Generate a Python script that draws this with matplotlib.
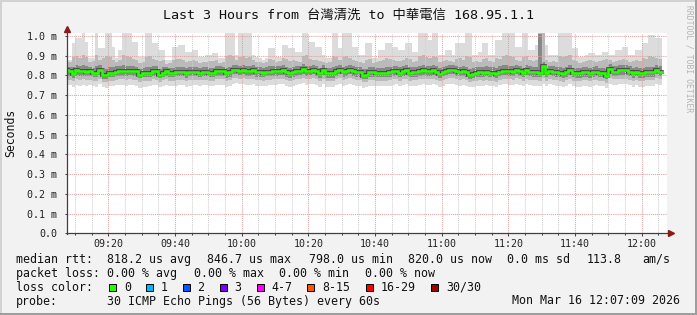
import numpy as np
import matplotlib
matplotlib.use("Agg")
import matplotlib.pyplot as plt
from matplotlib.patches import Rectangle
from matplotlib.lines import Line2D

# ---------------- data (milliseconds), one value per 1-minute step ----------------
start_minute = 547          # 09:07 (minutes after midnight)

median_rtt = [
    0.828,0.821,0.807,0.828,0.822,0.822,0.816,0.821,0.812,0.812,
    0.828,0.800,0.800,0.810,0.812,0.818,0.821,0.821,0.821,0.823,
    0.821,0.821,0.802,0.810,0.810,0.810,0.822,0.822,0.802,0.815,
    0.821,0.811,0.811,0.818,0.818,0.818,0.810,0.818,0.818,0.818,
    0.814,0.818,0.818,0.813,0.813,0.821,0.821,0.821,0.810,0.816,
    0.829,0.829,0.824,0.829,0.821,0.821,0.826,0.816,0.816,0.813,
    0.818,0.818,0.821,0.821,0.824,0.826,0.816,0.811,0.816,0.821,
    0.824,0.834,0.821,0.824,0.829,0.821,0.810,0.826,0.810,0.810,
    0.810,0.821,0.829,0.816,0.821,0.829,0.821,0.816,0.816,0.799,
    0.800,0.816,0.816,0.811,0.811,0.811,0.811,0.816,0.821,0.824,
    0.813,0.821,0.826,0.813,0.816,0.816,0.821,0.826,0.821,0.821,
    0.826,0.818,0.809,0.818,0.824,0.828,0.828,0.821,0.818,0.821,
    0.816,0.800,0.806,0.814,0.816,0.813,0.818,0.814,0.814,0.808,
    0.818,0.824,0.824,0.821,0.818,0.828,0.821,0.811,0.826,0.818,
    0.816,0.816,0.813,0.847,0.811,0.824,0.818,0.816,0.814,0.808,
    0.816,0.826,0.812,0.810,0.810,0.816,0.816,0.810,0.816,0.818,
    0.813,0.813,0.798,0.834,0.820,0.820,0.826,0.826,0.826,0.818,
    0.810,0.818,0.810,0.810,0.816,0.816,0.816,0.828,0.820]

rtt_max = [
    0.910,0.880,0.966,0.988,0.988,1.030,0.970,0.887,0.887,1.030,
    0.937,0.937,1.013,1.013,0.946,0.887,0.930,1.020,1.013,1.013,
    0.971,0.971,0.895,0.895,1.013,1.013,0.963,0.963,0.929,0.929,
    0.878,0.878,0.946,0.946,0.954,0.954,0.920,0.920,0.929,0.929,
    0.895,0.895,0.904,0.904,0.912,0.912,0.887,0.887,1.030,1.030,
    1.030,0.904,1.030,1.030,1.030,1.030,0.904,0.895,0.887,0.878,
    0.887,0.937,0.937,0.895,0.895,0.954,0.954,0.937,0.937,0.920,
    0.920,1.030,1.030,0.971,0.971,0.946,0.946,0.904,0.887,0.887,
    1.030,1.030,0.937,1.013,1.013,1.013,0.946,0.946,0.904,0.904,
    0.963,0.963,0.887,0.887,0.929,0.929,0.963,0.963,0.946,0.946,
    0.929,0.929,0.963,0.963,0.920,0.920,1.013,1.013,1.013,0.980,
    1.013,1.013,0.904,0.904,0.929,0.929,0.904,0.963,0.963,0.963,
    1.013,1.013,0.904,0.904,0.920,0.963,0.963,0.904,0.904,0.980,
    0.980,1.030,1.030,1.030,1.030,0.946,0.946,1.013,1.013,0.929,
    0.929,0.954,1.030,1.030,0.954,0.904,0.904,0.904,1.013,1.013,
    1.013,1.013,0.937,0.937,0.895,0.895,0.904,0.912,0.912,0.904,
    0.904,0.920,0.920,0.904,0.904,0.929,0.929,0.946,0.946,0.904,
    0.904,0.929,0.929,0.963,0.963,1.005,1.005,0.988,0.988]

rtt_p90 = [
    0.885,0.870,0.895,0.900,0.890,0.905,0.895,0.870,0.875,0.905,
    0.880,0.890,0.900,0.895,0.880,0.870,0.880,0.905,0.900,0.895,
    0.885,0.880,0.865,0.870,0.895,0.900,0.885,0.880,0.875,0.880,
    0.860,0.865,0.880,0.885,0.885,0.880,0.870,0.875,0.880,0.875,
    0.865,0.870,0.870,0.875,0.875,0.880,0.865,0.870,0.900,0.905,
    0.900,0.880,0.895,0.900,0.890,0.895,0.880,0.870,0.870,0.865,
    0.870,0.885,0.880,0.870,0.875,0.890,0.885,0.875,0.880,0.875,
    0.870,0.900,0.905,0.885,0.880,0.880,0.875,0.870,0.865,0.870,
    0.900,0.895,0.880,0.895,0.900,0.890,0.880,0.875,0.870,0.865,
    0.880,0.885,0.865,0.870,0.875,0.880,0.890,0.885,0.880,0.875,
    0.875,0.880,0.890,0.885,0.870,0.875,0.900,0.905,0.895,0.890,
    0.900,0.895,0.870,0.875,0.880,0.875,0.870,0.885,0.890,0.880,
    0.900,0.895,0.870,0.875,0.870,0.885,0.890,0.875,0.870,0.890,
    0.885,0.900,0.905,0.900,0.895,0.880,0.875,0.895,0.900,0.880,
    0.875,0.880,1.020,1.020,0.880,0.870,0.875,0.870,0.900,0.895,
    0.900,0.905,0.880,0.875,0.865,0.870,0.875,0.880,0.875,0.870,
    0.875,0.880,0.885,0.880,0.870,0.875,0.880,0.885,0.880,0.870,
    0.875,0.880,0.875,0.890,0.885,0.900,0.895,0.890,0.885]

rtt_p75 = [
    0.850,0.845,0.845,0.855,0.850,0.855,0.850,0.845,0.840,0.850,
    0.855,0.840,0.835,0.845,0.845,0.850,0.850,0.855,0.850,0.850,
    0.850,0.845,0.835,0.840,0.845,0.845,0.850,0.850,0.835,0.845,
    0.845,0.840,0.840,0.845,0.845,0.845,0.840,0.845,0.845,0.845,
    0.840,0.845,0.845,0.840,0.840,0.850,0.850,0.845,0.840,0.845,
    0.855,0.855,0.850,0.855,0.850,0.850,0.855,0.845,0.845,0.840,
    0.845,0.850,0.850,0.850,0.850,0.855,0.845,0.840,0.845,0.850,
    0.850,0.860,0.850,0.850,0.855,0.850,0.840,0.855,0.840,0.840,
    0.845,0.850,0.855,0.845,0.850,0.855,0.850,0.845,0.845,0.835,
    0.835,0.845,0.845,0.840,0.840,0.840,0.845,0.845,0.850,0.850,
    0.845,0.850,0.855,0.845,0.845,0.845,0.850,0.855,0.850,0.850,
    0.855,0.850,0.840,0.845,0.850,0.855,0.855,0.850,0.845,0.850,
    0.845,0.835,0.840,0.845,0.845,0.845,0.850,0.845,0.845,0.840,
    0.850,0.855,0.855,0.850,0.850,0.855,0.850,0.840,0.855,0.850,
    0.845,0.845,1.010,0.870,0.840,0.850,0.850,0.845,0.845,0.840,
    0.845,0.855,0.840,0.840,0.840,0.845,0.845,0.840,0.845,0.850,
    0.840,0.840,0.835,0.860,0.850,0.850,0.855,0.855,0.855,0.850,
    0.840,0.845,0.840,0.840,0.845,0.845,0.845,0.855,0.850]

rtt_p25 = [
    0.800,0.795,0.785,0.800,0.798,0.798,0.795,0.798,0.790,0.790,
    0.800,0.782,0.782,0.790,0.790,0.795,0.798,0.798,0.798,0.800,
    0.798,0.798,0.785,0.790,0.790,0.790,0.798,0.798,0.785,0.792,
    0.798,0.790,0.790,0.795,0.795,0.795,0.788,0.795,0.795,0.795,
    0.792,0.795,0.795,0.790,0.790,0.798,0.798,0.798,0.788,0.793,
    0.805,0.805,0.800,0.805,0.798,0.798,0.802,0.793,0.793,0.790,
    0.795,0.795,0.798,0.798,0.800,0.802,0.793,0.788,0.793,0.798,
    0.800,0.808,0.798,0.800,0.805,0.798,0.788,0.802,0.788,0.788,
    0.788,0.798,0.805,0.793,0.798,0.805,0.798,0.793,0.793,0.780,
    0.782,0.793,0.793,0.790,0.790,0.790,0.790,0.793,0.798,0.800,
    0.790,0.798,0.802,0.790,0.793,0.793,0.798,0.802,0.798,0.798,
    0.802,0.795,0.788,0.795,0.800,0.805,0.805,0.798,0.795,0.798,
    0.793,0.782,0.786,0.792,0.793,0.790,0.795,0.792,0.792,0.786,
    0.795,0.800,0.800,0.798,0.795,0.805,0.798,0.790,0.802,0.795,
    0.793,0.793,0.790,0.805,0.790,0.800,0.795,0.793,0.792,0.786,
    0.793,0.802,0.790,0.788,0.788,0.793,0.793,0.788,0.793,0.795,
    0.790,0.790,0.780,0.805,0.798,0.798,0.802,0.802,0.802,0.795,
    0.788,0.795,0.788,0.788,0.793,0.793,0.793,0.805,0.798]

rtt_p10 = [
    0.782,0.778,0.770,0.780,0.778,0.780,0.776,0.778,0.772,0.772,
    0.780,0.768,0.766,0.772,0.774,0.778,0.780,0.780,0.778,0.780,
    0.778,0.778,0.768,0.772,0.772,0.772,0.780,0.778,0.768,0.775,
    0.780,0.772,0.772,0.776,0.778,0.778,0.770,0.776,0.778,0.778,
    0.775,0.778,0.778,0.772,0.772,0.780,0.780,0.780,0.770,0.775,
    0.785,0.786,0.782,0.785,0.780,0.780,0.784,0.776,0.776,0.772,
    0.776,0.778,0.780,0.780,0.782,0.784,0.775,0.770,0.775,0.780,
    0.782,0.788,0.780,0.782,0.786,0.780,0.770,0.784,0.770,0.770,
    0.770,0.780,0.786,0.775,0.780,0.786,0.780,0.775,0.775,0.765,
    0.766,0.775,0.775,0.772,0.772,0.772,0.772,0.775,0.780,0.782,
    0.772,0.780,0.784,0.772,0.775,0.775,0.780,0.784,0.780,0.780,
    0.784,0.778,0.770,0.776,0.782,0.786,0.786,0.780,0.776,0.780,
    0.775,0.766,0.770,0.774,0.775,0.772,0.778,0.774,0.774,0.768,
    0.777,0.782,0.782,0.780,0.777,0.786,0.780,0.772,0.784,0.777,
    0.775,0.775,0.772,0.786,0.772,0.782,0.777,0.775,0.774,0.768,
    0.775,0.784,0.772,0.770,0.770,0.775,0.775,0.770,0.775,0.777,
    0.772,0.772,0.764,0.786,0.780,0.780,0.784,0.784,0.784,0.777,
    0.770,0.777,0.770,0.770,0.775,0.775,0.775,0.786,0.780]

rtt_min = [
    0.755,0.750,0.742,0.750,0.748,0.752,0.745,0.750,0.745,0.742,
    0.755,0.740,0.738,0.745,0.748,0.750,0.752,0.750,0.748,0.752,
    0.750,0.748,0.738,0.742,0.742,0.745,0.752,0.750,0.740,0.748,
    0.752,0.745,0.745,0.748,0.750,0.750,0.742,0.748,0.750,0.750,
    0.748,0.750,0.750,0.745,0.745,0.752,0.752,0.752,0.742,0.748,
    0.758,0.760,0.755,0.758,0.752,0.752,0.756,0.748,0.748,0.745,
    0.748,0.750,0.752,0.752,0.755,0.758,0.748,0.742,0.748,0.752,
    0.755,0.762,0.752,0.755,0.758,0.752,0.742,0.756,0.742,0.742,
    0.742,0.752,0.758,0.748,0.752,0.758,0.752,0.748,0.748,0.738,
    0.740,0.748,0.748,0.745,0.745,0.745,0.745,0.748,0.752,0.755,
    0.745,0.752,0.756,0.745,0.748,0.748,0.752,0.756,0.752,0.752,
    0.756,0.750,0.742,0.748,0.755,0.758,0.758,0.752,0.748,0.752,
    0.748,0.740,0.742,0.746,0.748,0.745,0.750,0.746,0.746,0.740,
    0.750,0.755,0.755,0.752,0.750,0.758,0.752,0.745,0.756,0.750,
    0.748,0.748,0.745,0.758,0.745,0.755,0.750,0.748,0.746,0.740,
    0.748,0.756,0.745,0.742,0.742,0.748,0.748,0.742,0.748,0.750,
    0.745,0.745,0.736,0.758,0.752,0.752,0.756,0.756,0.756,0.750,
    0.742,0.750,0.742,0.742,0.748,0.748,0.748,0.758,0.752]

y_ticks = [0.0, 0.1, 0.2, 0.3, 0.4, 0.5, 0.6, 0.7, 0.8, 0.9, 1.0]
y_labels = ["0.0", "0.1 m", "0.2 m", "0.3 m", "0.4 m", "0.5 m", "0.6 m", "0.7 m", "0.8 m", "0.9 m", "1.0 m"]
x_tick_minutes = [560, 580, 600, 620, 640, 660, 680, 700, 720]
x_labels = ["09:20", "09:40", "10:00", "10:20", "10:40", "11:00", "11:20", "11:40", "12:00"]

title = "Last 3 Hours from 台灣清洗 to 中華電信 168.95.1.1"
legend_rtt = [("median rtt:", 16), ("818.2 us avg", 107), ("846.7 us max", 207),
              ("798.0 us min", 309), ("820.0 us now", 408), ("0.0 ms sd", 507),
              ("113.8", 587), ("am/s", 642)]
legend_loss = [("packet loss:", 16), ("0.00 % avg", 107), ("0.00 % max", 194),
               ("0.00 % min", 279), ("0.00 % now", 365)]
loss_labels = ["0", "1", "2", "3", "4-7", "8-15", "16-29", "30/30"]
loss_colors = ["#26ff00", "#00b8ff", "#0059ff", "#7e00ff", "#ff00ff", "#ff5500", "#ff0000", "#a10000"]
loss_box_x = [109, 146, 183, 220, 257, 307, 366, 431]
loss_label_x = [124, 161, 197, 234, 271, 322, 381, 446]
probe_text = "30 ICMP Echo Pings (56 Bytes) every 60s"
date_text = "Mon Mar 16 12:07:09 2026"

# ---------------- figure ----------------
W, H = 697, 315
fig = plt.figure(figsize=(W / 100, H / 100), dpi=100)
fig.patch.set_facecolor("#f2f2f2")

def fx(x):
    return x / W

def fy(y):
    return 1 - y / H

MONO = "DejaVu Sans Mono"
CJK = ["DejaVu Sans Mono", "Noto Sans CJK TC"]

plot_left, plot_right, plot_top, plot_bottom = 67, 667, 33.3, 233.3
ax = fig.add_axes([fx(plot_left), fy(plot_bottom), (plot_right - plot_left) / W,
                   (plot_bottom - plot_top) / H])
ax.set_facecolor("white")
ymax = 200 / 197.3
ax.set_ylim(0, ymax)
ax.set_xlim(547.6, 727.6)

n = len(median_rtt)
edges = start_minute + np.arange(n + 1)

def ext(a):
    a = np.asarray(a, dtype=float)
    return np.append(a, a[-1])

ax.fill_between(edges, ext(rtt_min), ext(rtt_max), step="post", color="#dcdcdc", lw=0, zorder=1)
ax.fill_between(edges, ext(rtt_p10), ext(rtt_p90), step="post", color="#bababa", lw=0, zorder=2)
ax.fill_between(edges, ext(rtt_p25), ext(rtt_p75), step="post", color="#888888", lw=0, zorder=3)

# grid (drawn over the smoke)
for m in range(550, 728, 5):
    if m % 20 == 0:
        ax.axvline(m, color="#e3a0a0", lw=0.75, ls=(0, (1, 1)), zorder=4)
    else:
        ax.axvline(m, color="#cfcfcf", lw=0.75, ls=(0, (1, 1)), zorder=4)
for v in y_ticks[1:]:
    ax.axhline(v, color="#e3a0a0", lw=0.75, ls=(0, (1, 1)), zorder=4)

# median line with dark core
ax.plot(edges, ext(median_rtt), drawstyle="steps-post", color="#404040", lw=2.6, zorder=6,
        solid_joinstyle="miter")
ax.plot(edges, ext(median_rtt), drawstyle="steps-post", color="#26ff00", lw=1.9, zorder=7,
        solid_joinstyle="miter")

for s in ax.spines.values():
    s.set_visible(False)

ax.set_xticks(x_tick_minutes)
ax.set_xticklabels(x_labels, family=MONO, fontsize=7.2, color="#222222")
ax.set_xticks(list(range(550, 728, 5)), minor=True)
ax.set_yticks(y_ticks)
ax.set_yticklabels(y_labels, family=MONO, fontsize=7.2, color="#222222")
ax.tick_params(axis="x", which="major", direction="out", length=2.2, width=0.75, color="#444444", pad=2.0)
ax.tick_params(axis="x", which="minor", direction="out", length=1.4, width=0.75, color="#444444")
ax.tick_params(axis="y", which="major", direction="out", length=1.8, width=0.75, color="#444444", pad=5.2)

# axis lines with arrows
axis_col = "#404040"
arrow_col = "#8b1a1a"
fig.add_artist(Line2D([fx(66.5), fx(669)], [fy(233.3), fy(233.3)], color=axis_col, lw=0.9))
fig.add_artist(Line2D([fx(67), fx(67)], [fy(233.8), fy(30)], color=axis_col, lw=0.9))
fig.add_artist(Line2D([fx(670.5)], [fy(233.3)], marker=">", markersize=4.0, color=arrow_col, lw=0))
fig.add_artist(Line2D([fx(67)], [fy(29)], marker="^", markersize=4.0, color=arrow_col, lw=0))

# titles / labels
fig.text(fx(348.5), fy(15), title, family=CJK, fontsize=9.6, ha="center", va="center", color="#111111")
fig.text(fx(11), fy(133), "Seconds", family=MONO, fontsize=8.3, rotation=90, ha="center", va="center",
         color="#111111")
fig.text(fx(688.5), fy(59), "RRDTOOL / TOBI OETIKER", family=MONO, fontsize=5.8, rotation=270,
         ha="center", va="center", color="#b4b4b4")

# legend
LFS = 8.35
base = [263, 277, 291, 304.5]
for txt, x in legend_rtt:
    fig.text(fx(x), fy(base[0]), txt, family=MONO, fontsize=LFS, va="baseline", color="#111111")
for txt, x in legend_loss:
    fig.text(fx(x), fy(base[1]), txt, family=MONO, fontsize=LFS, va="baseline", color="#111111")
fig.text(fx(16), fy(base[2]), "loss color:", family=MONO, fontsize=LFS, va="baseline", color="#111111")
for lab, col, bx, lx in zip(loss_labels, loss_colors, loss_box_x, loss_label_x):
    fig.add_artist(Rectangle((fx(bx), fy(290.5)), 7 / W, 7 / H, transform=fig.transFigure,
                             facecolor=col, edgecolor="#000000", lw=0.7))
    fig.text(fx(lx), fy(base[2]), lab, family=MONO, fontsize=LFS, va="baseline", color="#111111")
fig.text(fx(16), fy(base[3]), "probe:", family=MONO, fontsize=LFS, va="baseline", color="#111111")
fig.text(fx(107), fy(base[3]), probe_text, family=MONO, fontsize=LFS, va="baseline", color="#111111")
fig.text(fx(680.5), fy(base[3]), date_text, family=MONO, fontsize=LFS, va="baseline", ha="right",
         color="#111111")

# 3D frame
fig.add_artist(Rectangle((0, 1 - 2 / H), 1, 2 / H, transform=fig.transFigure, color="#d2d2d2", lw=0))
fig.add_artist(Rectangle((0, 0), 2 / W, 1, transform=fig.transFigure, color="#d2d2d2", lw=0))
fig.add_artist(Rectangle((0, 0), 1, 2.5 / H, transform=fig.transFigure, color="#9e9e9e", lw=0))
fig.add_artist(Rectangle((1 - 2.5 / W, 0), 2.5 / W, 1, transform=fig.transFigure, color="#9e9e9e", lw=0))

fig.savefig("out.png", dpi=100, facecolor=fig.get_facecolor())
